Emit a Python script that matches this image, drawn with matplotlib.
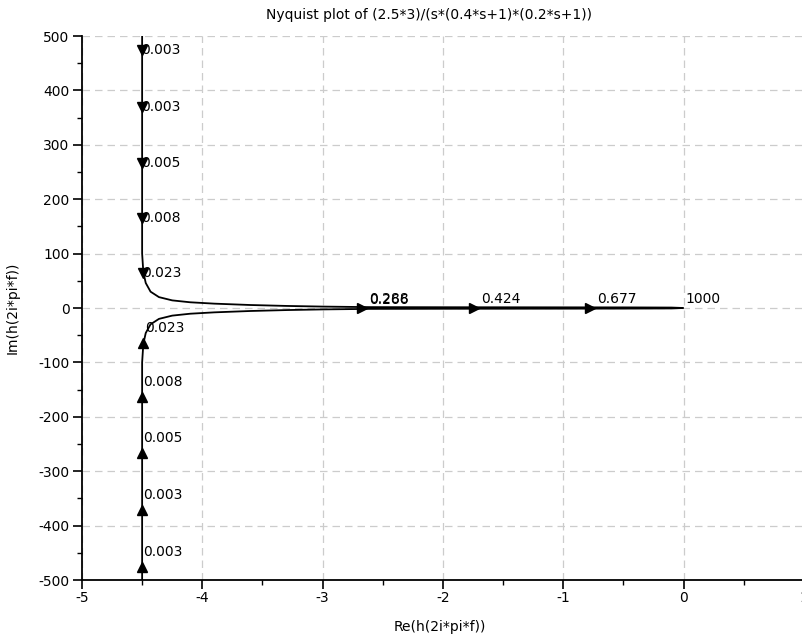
import numpy as np
import matplotlib
matplotlib.use("Agg")
import matplotlib.pyplot as plt
from matplotlib.ticker import MultipleLocator

plt.rcParams["font.family"] = ["DejaVu Sans"]
plt.rcParams["axes.unicode_minus"] = False

# curve (upper branch: negative freqs, lower: positive)
upper_re = [-4.50, -4.50, -4.50, -4.49, -4.47, -4.43, -4.36, -4.25, -4.10, -3.90,
            -3.60, -3.30, -3.00, -2.60, -2.00, -1.50, -1.00, -0.50, -0.10, 0.0]
upper_im = [500, 200, 100, 66, 46, 30, 20, 14, 10.5, 8,
            5.5, 3.8, 2.6, 1.6, 1.4, 1.3, 1.2, 1.1, 0.8, 0]
lower_re = [-4.50, -4.50, -4.50, -4.49, -4.47, -4.43, -4.36, -4.25, -4.10, -3.90,
            -3.60, -3.30, -3.00, -2.60, -2.00, -1.50, -1.00, -0.50, -0.10, 0.0]
lower_im = [-500, -200, -100, -66, -46, -30, -20, -14, -10.5, -8,
            -5.5, -3.8, -2.6, -1.6, -1.4, -1.3, -1.2, -1.1, -0.8, 0]

# frequency marks along the branches
down_freq = ["0.003", "0.003", "0.005", "0.008", "0.023"]
down_re = [-4.5, -4.5, -4.5, -4.5, -4.49]
down_im = [474, 369, 267, 165, 64]

up_freq = ["0.023", "0.008", "0.005", "0.003", "0.003"]
up_re = [-4.49, -4.5, -4.5, -4.5, -4.5]
up_im = [-64, -164, -267, -371, -476]

right_freq = ["0.288", "0.424", "0.677"]
right_re = [-2.67, -1.74, -0.78]
right_im = [0, 0, 0]

end_label = "1000"
end_re, end_im = 0.0, 0.0

fig = plt.figure(figsize=(8.02, 6.4), dpi=100)
ax = fig.add_axes([0.1022, 0.09375, 0.9002, 0.85])

ax.plot(upper_re, upper_im, color="black", lw=1.3, solid_capstyle="butt")
ax.plot(lower_re, lower_im, color="black", lw=1.3, solid_capstyle="butt")

ax.plot(down_re, down_im, "v", color="black", ms=7)
ax.plot(up_re, up_im, "^", color="black", ms=7)
ax.plot(right_re, right_im, ">", color="black", ms=7)

fs = 10
for lab, x, y in zip(down_freq, down_re, down_im):
    ax.annotate(lab, (x, y), xytext=(-1, 0), textcoords="offset points",
                ha="left", va="center", fontsize=fs)
for lab, x, y in zip(up_freq, up_re, up_im):
    ax.annotate(lab, (x, y), xytext=(1, 11), textcoords="offset points",
                ha="left", va="center", fontsize=fs)
for lab, x, y in zip(right_freq, right_re, right_im):
    ax.annotate(lab, (x, y), xytext=(5, 1.5), textcoords="offset points",
                ha="left", va="bottom", fontsize=fs)
# the two branch labels sit on top of each other here
ax.annotate("0.266", (right_re[0], right_im[0]), xytext=(5, 0.5),
            textcoords="offset points", ha="left", va="bottom", fontsize=fs)
ax.annotate(end_label, (end_re, end_im), xytext=(1.5, 1.5),
            textcoords="offset points", ha="left", va="bottom", fontsize=fs)

ax.set_xlim(-5, 1)
ax.set_ylim(-500, 500)
ax.xaxis.set_major_locator(MultipleLocator(1))
ax.xaxis.set_minor_locator(MultipleLocator(0.5))
ax.yaxis.set_major_locator(MultipleLocator(100))
ax.yaxis.set_minor_locator(MultipleLocator(50))
ax.tick_params(which="major", direction="out", length=6.5, width=1.2,
               labelsize=fs, pad=2.5)
ax.tick_params(axis="x", which="major", pad=1.5)
ax.tick_params(which="minor", direction="out", length=3.6, width=1.0)

ax.spines["top"].set_visible(False)
ax.spines["right"].set_visible(False)
ax.spines["left"].set_linewidth(1.3)
ax.spines["bottom"].set_linewidth(1.3)
ax.set_axisbelow(True)
ax.grid(True, which="major", color="#cccccc", linestyle=(0, (6, 4)), lw=0.9)

fig.text(0.535, 0.977, "Nyquist plot of (2.5*3)/(s*(0.4*s+1)*(0.2*s+1))",
         ha="center", va="center", fontsize=10)
fig.text(0.549, 0.021, "Re(h(2i*pi*f))", ha="center", va="center", fontsize=10)
fig.text(0.016, 0.519, "Im(h(2i*pi*f))", ha="center", va="center",
         rotation=90, fontsize=10)

fig.savefig("out.png", dpi=100)
